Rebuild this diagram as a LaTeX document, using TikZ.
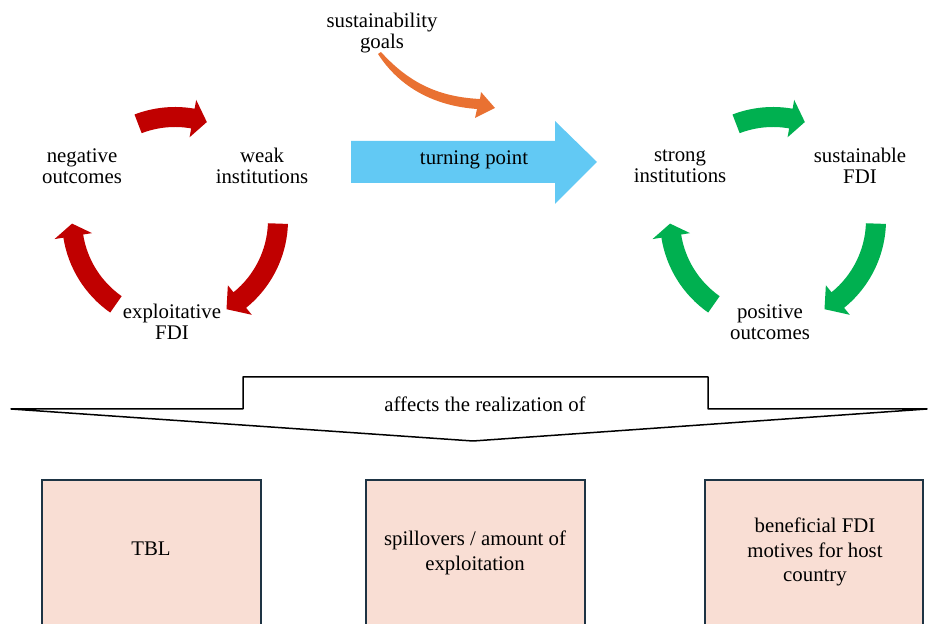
\documentclass[tikz,border=0pt]{standalone}
\usepackage{fontspec}
\setmainfont{Liberation Serif}
\usetikzlibrary{calc}
\definecolor{cred}{HTML}{C00000}
\definecolor{cgreen}{HTML}{00B050}
\definecolor{cblue}{HTML}{62C9F4}
\definecolor{corange}{HTML}{E97132}
\definecolor{boxfill}{HTML}{F9DED4}
\definecolor{boxline}{HTML}{1E3444}
% #1 centre, #2 start angle, #3 head base angle, #4 tip angle, #5 colour
\newcommand\cycarrow[5]{%
  \fill[#5] ($(#1)+(#2:113)$) arc[start angle=#2, end angle=#3, radius=113pt]
    -- ($(#1)+(#3:122)$) -- ($(#1)+(#4:103)$) -- ($(#1)+(#3:84)$)
    -- ($(#1)+(#3:93)$) arc[start angle=#3, end angle=#2, radius=93pt] -- cycle;}
\begin{document}
\begin{tikzpicture}[x=1pt,y=1pt,
  lbl/.style={align=center, inner sep=0pt, font=\fontsize{20.8}{21}\selectfont},
  boxtxt/.style={align=center, inner sep=0pt, font=\fontsize{20.8}{24.5}\selectfont},
  fbox/.style={draw=boxline, line width=2.2pt, fill=boxfill},
  outline/.style={draw=black, line width=1.5pt, line join=round}]
\useasboundingbox (0,0) rectangle (930,624);
\clip (0,0) rectangle (930,624);

% cycle centres
\coordinate (rc) at (175,404);
\coordinate (gc) at (773,404);

% red cycle
\cycarrow{rc}{111}{80}{72}{cred}
\cycarrow{rc}{-2}{-51}{-60}{cred}
\cycarrow{rc}{235}{189}{182}{cred}
\node[lbl] (neg) at (82,458) {negative\\outcomes};
\node[lbl] (weak) at (262,458) {weak\\institutions};
\node[lbl] (expl) at (172,302) {exploitative\\FDI};

% green cycle
\cycarrow{gc}{111}{80}{72}{cgreen}
\cycarrow{gc}{-2}{-51}{-60}{cgreen}
\cycarrow{gc}{235}{189}{182}{cgreen}
\node[lbl] (strong) at (680,458) {strong\\institutions};
\node[lbl] (sfdi) at (860,458) {sustainable\\FDI};
\node[lbl] (pos) at (770,302) {positive\\outcomes};

% turning point arrow
\fill[cblue] (351,483) -- (555,483) -- (555,503) -- (597,462) -- (555,420) -- (555,441) -- (351,441) -- cycle;
\node[lbl] (turn) at (474,464) {turning point};

% sustainability goals
\node[lbl] (goals) at (382,591) {sustainability\\goals};
\fill[corange] (381,572) .. controls (410,540) and (440,527) .. (480,525)
  -- (481,532) -- (495,516) -- (475,506) -- (477,515)
  .. controls (435,518) and (400,536) .. (378,570) -- cycle;

% big down arrow
\draw[outline] (243,247) -- (708,247) -- (708,215) -- (927,215) -- (473,183)
  -- (11,215) -- (243,215) -- cycle;
\node[lbl, anchor=base] (aff) at (485,212) {affects the realization of};

% boxes
\draw[fbox] (42,144) rectangle (261,-20);
\draw[fbox] (366,144) rectangle (585,-20);
\draw[fbox] (705,144) rectangle (923,-20);
\node[boxtxt] (tbl) at (151,75) {TBL};
\node[boxtxt] (spill) at (475,71) {spillovers / amount of\\exploitation};
\node[boxtxt] (benef) at (815,72) {beneficial FDI\\motives for host\\country};
\end{tikzpicture}
\end{document}
